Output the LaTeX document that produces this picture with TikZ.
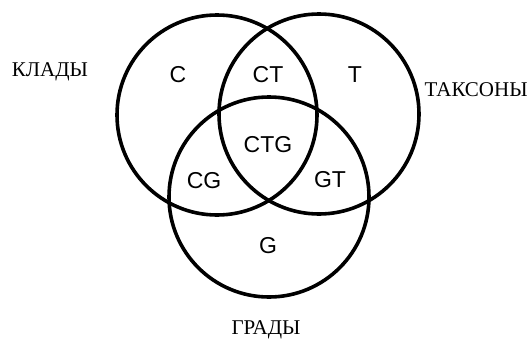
\documentclass[tikz,border=0pt]{standalone}
\usepackage{fontspec}
\setmainfont{Liberation Serif}
\setsansfont{Liberation Sans}
\begin{document}
\begin{tikzpicture}[x=1pt,y=-1pt,
    set/.style={circle,draw,line width=3.6pt,minimum size=200pt,inner sep=0pt},
    part/.style={font=\sffamily\fontsize{23}{23}\selectfont},
    group/.style={font=\fontsize{21}{21}\selectfont}]
    \useasboundingbox (0,0) rectangle (527,340);
    \node[set] (clade) at (217,115) {};
    \node[set] (taxon) at (319,114) {};
    \node[set] (grade) at (269,197) {};
    % regions
    \node[part] (c) at (178,75) {C};
    \node[part] (ct) at (268,75) {CT};
    \node[part] (t) at (355,75) {T};
    \node[part] (ctg) at (268,145) {CTG};
    \node[part] (cg) at (204,181) {CG};
    \node[part] (gt) at (330,180) {GT};
    \node[part] (g) at (268,246) {G};
    % set names
    \node[group] (cladename) at (50,72) {КЛАДЫ};
    \node[group,anchor=west] (taxonname) at (421,90) {ТАКСОНЫ};
    \node[group] (gradename) at (266,330) {ГРАДЫ};
\end{tikzpicture}
\end{document}
